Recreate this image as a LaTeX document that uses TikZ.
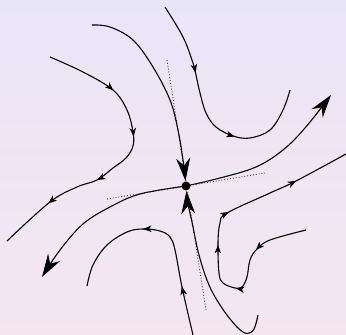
\documentclass[tikz,border=0pt]{standalone}
\usetikzlibrary{arrows.meta,decorations.markings}
\tikzset{
  smallhead/.tip={Stealth[length=8.5pt,width=6.5pt,inset=2.2pt]},
  bighead/.tip={Stealth[length=23pt,width=14pt,inset=7.5pt]},
  traj/.style={line width=1.1pt,black},
  marr/.style={postaction={decorate,decoration={markings,mark=at position #1 with {\arrow{smallhead}}}}},
  eigen/.style={line width=0.9pt,dotted,black!80},
}
\begin{document}
\begin{tikzpicture}[x=1pt,y=-1pt]
\shade[top color={rgb,255:red,233;green,229;blue,248},bottom color={rgb,255:red,245;green,230;blue,240}] (0,0) rectangle (346,335);
\useasboundingbox (0,0) rectangle (346,335);
\coordinate (s) at (186,186);
% eigen directions
\draw[eigen] (167,60) -- (206,310);
\draw[eigen] (107,199) -- (265,173);
% stable manifold, top branch
\draw[traj,-bighead] plot[smooth,tension=0.6] coordinates {(92,25) (110,27) (133,40) (153,67) (170,100) (178,130) (183,160) (185.5,181)};
% stable manifold, bottom branch
\draw[traj,-bighead] plot[smooth,tension=0.6] coordinates {(258,315) (254,329) (247,333.5) (237,327) (222,308) (209,285) (199,255) (192,222) (188,204) (186.5,191)};
% unstable manifold
\draw[traj,-bighead] plot[smooth,tension=0.6] coordinates {(186,186) (220,178) (256,167) (283,150) (305,128) (331,95)};
\draw[traj,-bighead] plot[smooth,tension=0.6] coordinates {(186,186) (140,194) (110,207) (83,224) (60,250) (42,277)};
% trajectory upper left
\draw[traj,marr=0.245,marr=0.42,marr=0.625,marr=0.81] plot[smooth,tension=0.6] coordinates {(50,57) (83,72) (113,90) (127,110) (133,132) (133,146) (126,158) (113,168) (97,180) (77,187) (50,202) (7,241)};
% trajectory upper right
\draw[traj,marr=0.31,marr=0.65] plot[smooth,tension=0.6] coordinates {(165,7) (183,37) (193,63) (196,75) (200,93) (206,113) (216,127) (233,136) (250,138) (270,130) (283,110) (290,90)};
% trajectory lower right
\draw[traj,marr=0.17,marr=0.315,marr=0.48,marr=0.595,marr=0.825] plot[smooth,tension=0.6] coordinates {(306,230) (270,240) (257,249) (250,260) (247,277) (242,287) (235,288) (223,283) (219,273) (218,243) (220,223) (227,213) (270,193) (296,181) (346,154)};
% trajectory lower left
\draw[traj,marr=0.23,marr=0.6] plot[smooth,tension=0.6] coordinates {(193,335) (182,287) (175,250) (170,237) (160,231) (143,229) (127,232) (107,245) (93,265) (87,286)};
% saddle point
\fill[black] (s) circle (4.5pt);
\end{tikzpicture}
\end{document}
